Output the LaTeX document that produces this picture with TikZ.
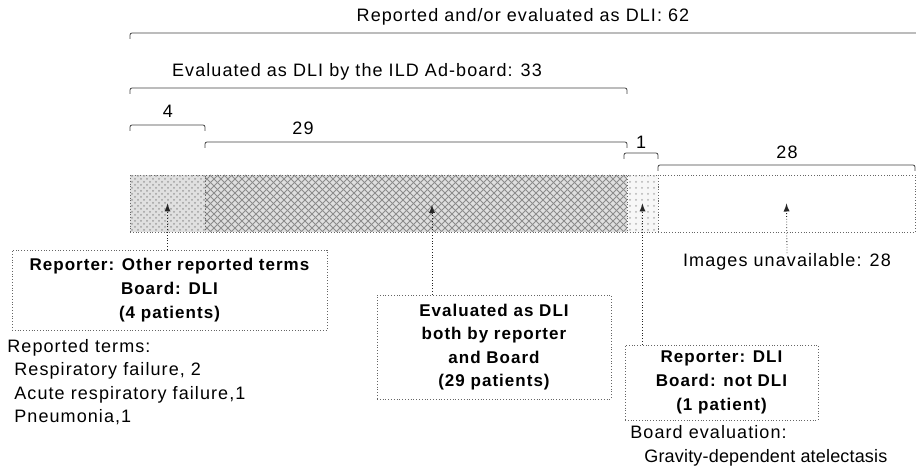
\documentclass[tikz,border=0pt]{standalone}
\usepackage{fontspec}
\setmainfont{Liberation Sans}[LetterSpace=6]
\usepackage{tikz}
\usetikzlibrary{calc, arrows, patterns}
\tikzset{
  txt/.style = {inner sep=0pt, font=\fontsize{9}{11}\selectfont},
  seg/.style = {draw=black!60, densely dotted, minimum height=28.5pt,
    inner sep=0pt},% bar segment
  bx/.style = {draw=black!60, densely dotted, align=center, inner sep=0pt,
    font=\fontsize{8.5}{12}\selectfont\bfseries},% bold box
  brk/.style = {draw=black!75, thin, rounded corners=1pt},% bracket
  hatch/.style = {draw=black!45, line width=0.5pt},% cross hatch line
  arw/.style = {-latex, densely dotted, black!85, thin}% arrow to bar
}
\begin{document}
\begin{tikzpicture}[x=0.5pt, y=-0.5pt]
\useasboundingbox (0,0) rectangle (916,470);

% brackets and counts
\node[txt] (t62) at (523,17) {Reported and/or evaluated as DLI: 62};
\node[txt] (t33) at (357,72) {Evaluated as DLI by the ILD Ad-board: 33};
\node[txt] (n4) at (168,111) {4};
\node[txt] (n29) at (303,128) {29};
\node[txt] (n1) at (641,142) {1};
\node[txt] (n28) at (787,152) {28};
\draw[brk] (130,39) |- (918,33);
\draw[brk] (130,94) |- (627,88) -- (627,94);
\draw[brk] (130,131) |- (205,125) -- (205,131);
\draw[brk] (205,148) |- (627,142) -- (627,148);
\draw[brk] (624,159) |- (658,153) -- (658,159);
\draw[brk] (658,171) |- (915,165) -- (915,171);

% the bar
\node[seg, minimum width=37.5pt, fill=gray!24,
  postaction={pattern=crosshatch dots, pattern color=gray!75}] (sgA) at (167.5,203.5) {};
\node[seg, minimum width=211pt, fill=gray!25] (sgB) at (416,203.5) {};
\begin{scope}
  \clip (205,175) rectangle (627,232);
  \foreach \x in {140,147,...,640}{
    \draw[hatch] (\x,232) -- ++(57,-57);
    \draw[hatch] (\x,175) -- ++(57,57);
  }
\end{scope}
\node[seg, minimum width=211pt] at (sgB) {};
\node[seg, minimum width=15.5pt, fill=gray!6,
  postaction={pattern=dots, pattern color=gray!60}] (sgC) at (642.5,203.5) {};
\node[seg, minimum width=128.5pt] (sgD) at (786.5,203.5) {};

% boxes
\node[bx, minimum width=157.5pt, minimum height=40pt] (bx1) at (169.5,290)
  {Reporter: Other reported terms\\Board: DLI\\(4 patients)};
\node[bx, minimum width=117pt, minimum height=52pt, font=\fontsize{8.5}{11.75}\selectfont\bfseries] (bx2) at (494,347)
  {Evaluated as DLI\\both by reporter\\and Board\\(29 patients)};
\node[bx, minimum width=96.5pt, minimum height=37.5pt] (bx3) at (721.5,382.5)
  {Reporter: DLI\\Board: not DLI\\(1 patient)};

% notes
\node[txt, align=left, anchor=north west, font=\fontsize{9}{11.75}\selectfont] (rt) at (7,339)
  {Reported terms:\\\hspace*{3.5pt}Respiratory failure, 2\\\hspace*{3.5pt}Acute respiratory failure,1\\\hspace*{3.5pt}Pneumonia,1};
\node[txt, align=left, anchor=north west, font=\fontsize{9}{12}\selectfont] (be) at (630,425)
  {Board evaluation:\\\hspace*{7pt}\addfontfeature{LetterSpace=1}Gravity-dependent atelectasis};
\node[txt] (iu) at (787,262) {Images unavailable: 28};

% arrows
\coordinate (p2) at (432,205);
\draw[arw] (bx1.north -| sgA) -- (sgA.center);
\draw[arw] (bx2.north -| p2) -- (p2);
\draw[arw] (bx3.north -| sgC) -- (sgC.center);
\draw[arw] (iu.north) -- (sgD.center);
\end{tikzpicture}
\end{document}
